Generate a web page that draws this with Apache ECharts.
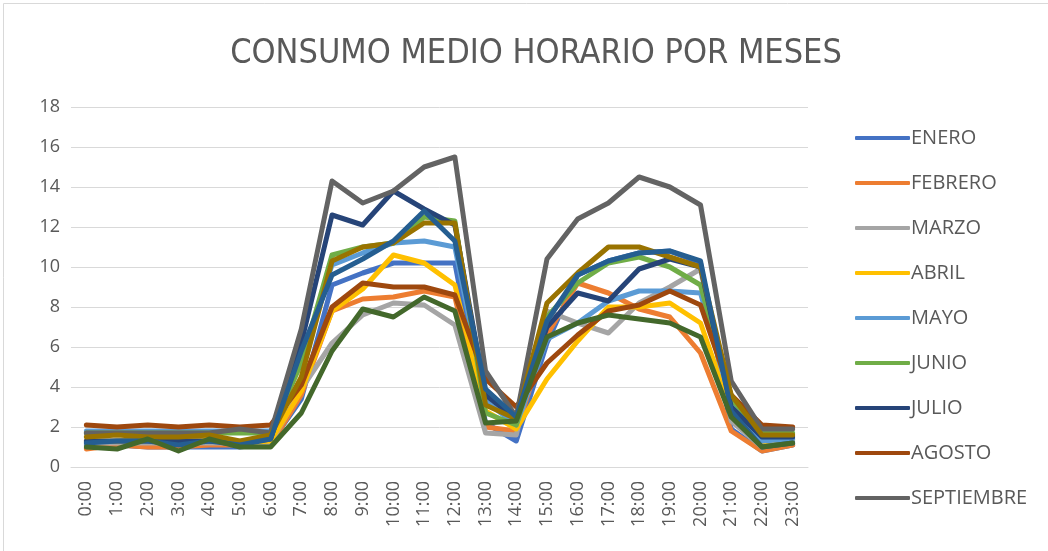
<!DOCTYPE html>
<html>
<head>
<meta charset="utf-8">
<script src="https://cdn.jsdelivr.net/npm/echarts@6/dist/echarts.min.js"></script>
<style>
  html, body { margin: 0; padding: 0; background: #fff; }
  #chart { width: 1048px; height: 551px; }
</style>
</head>
<body>
<div id="chart"></div>
<script>
// horas del día
const hours = ["0:00","1:00","2:00","3:00","4:00","5:00","6:00","7:00","8:00","9:00","10:00","11:00",
  "12:00","13:00","14:00","15:00","16:00","17:00","18:00","19:00","20:00","21:00","22:00","23:00"]

const months = ["ENERO","FEBRERO","MARZO","ABRIL","MAYO","JUNIO","JULIO","AGOSTO","SEPTIEMBRE","OCTUBRE","NOVIEMBRE","DICIEMBRE"]
// only these fit in the legend
const legendMonths = ["ENERO","FEBRERO","MARZO","ABRIL","MAYO","JUNIO","JULIO","AGOSTO","SEPTIEMBRE"]

const enero      = [1.1,1.1,1.0,1.0,1.0,1.0,1.2,3.4,9.1,9.7,10.2,10.2,10.2,2.2,1.3,6.2,9.6,10.3,10.7,10.8,10.2,1.9,0.8,1.1]
const febrero    = [0.9,1.1,1.0,1.0,1.1,1.1,1.1,3.6,7.8,8.4,8.5,8.8,8.5,2.0,1.8,6.6,9.2,8.7,7.9,7.5,5.7,1.8,0.8,1.1]
const marzo      = [1.2,1.2,1.2,1.2,1.2,1.2,1.2,3.9,6.2,7.6,8.2,8.1,7.1,1.7,1.6,7.8,7.2,6.7,8.2,9.0,9.9,2.3,1.0,1.3]
const abril      = [1.3,1.3,1.4,1.3,1.4,1.2,1.3,3.8,7.8,8.9,10.6,10.2,9.1,2.8,1.9,4.4,6.3,8.0,8.0,8.2,7.2,2.8,1.2,1.4]
const mayo       = [1.8,1.8,1.8,1.8,1.8,1.8,1.8,5.4,10.1,10.7,11.2,11.3,11.0,3.3,2.1,6.4,7.2,8.3,8.8,8.8,8.7,3.2,1.3,1.4]
const junio      = [1.7,1.7,1.7,1.7,1.7,1.7,1.7,5.2,10.6,11.0,11.2,12.5,12.3,2.7,2.1,7.5,9.2,10.2,10.5,10.0,9.1,3.4,1.7,1.7]
const julio      = [1.3,1.3,1.3,1.3,1.3,1.2,1.4,6.2,12.6,12.1,13.8,12.9,12.1,3.6,2.4,7.0,8.7,8.3,9.9,10.4,10.0,3.0,1.5,1.5]
const agosto     = [2.1,2.0,2.1,2.0,2.1,2.0,2.1,4.1,8.0,9.2,9.0,9.0,8.6,4.4,3.0,5.2,6.6,7.8,8.1,8.8,8.1,3.6,2.1,2.0]
const septiembre = [1.7,1.7,1.7,1.7,1.7,1.9,1.7,6.9,14.3,13.2,13.8,15.0,15.5,4.8,2.5,10.4,12.4,13.2,14.5,14.0,13.1,4.3,1.9,1.9]
const octubre    = [1.5,1.6,1.5,1.5,1.6,1.3,1.6,4.5,10.3,11.0,11.2,12.2,12.2,3.1,2.4,8.2,9.7,11.0,11.0,10.5,10.0,3.6,1.6,1.6]
const noviembre  = [1.2,1.3,1.3,1.1,1.3,1.1,1.4,5.8,9.6,10.4,11.3,12.8,11.3,3.9,2.5,7.3,9.6,10.3,10.7,10.8,10.3,2.8,1.0,1.2]
const diciembre  = [1.0,0.9,1.4,0.8,1.4,1.0,1.0,2.7,5.8,7.9,7.5,8.5,7.8,2.2,2.3,6.5,7.2,7.6,7.4,7.2,6.5,2.5,1.0,1.2]

const seriesData = [enero,febrero,marzo,abril,mayo,junio,julio,agosto,septiembre,octubre,noviembre,diciembre]
const colors = ["#4472C4","#ED7D31","#A5A5A5","#FFC000","#5B9BD5","#70AD47",
  "#264478","#9E480E","#636363","#997300","#255E91","#43682B"]

const font = "'Open Sans', 'Noto Sans', sans-serif"
const narrow = "'Liberation Sans Narrow', 'DejaVu Sans Condensed', 'Open Sans', sans-serif"
const chart = echarts.init(document.getElementById("chart"))

const option = {
  animation: false,
  color: colors,
  title: {
    text: "CONSUMO MEDIO HORARIO POR MESES",
    left: 531,
    textAlign: "center",
    top: 32,
    textStyle: {
      fontFamily: narrow,
      fontSize: 34,
      fontWeight: "normal",
      color: "#595959",
    },
  },
  legend: {
    orient: "vertical",
    left: 850,
    top: 122,
    data: legendMonths,
    itemWidth: 55,
    itemHeight: 4,
    itemGap: 23,
    icon: "roundRect",
    textStyle: {
      fontFamily: font,
      fontSize: 20,
      lineHeight: 22,
      color: "#595959",
      padding: [0, 0, 0, -4],
    },
  },
  graphic: [{
    type: "rect",
    shape: { x: 3.5, y: 3.5, width: 1060, height: 570 },
    style: { fill: "none", stroke: "#d9d9d9", lineWidth: 1 },
    silent: true,
  }],
  grid: {
    left: 71,
    right: 240,
    top: 107,
    bottom: 84,
  },
  xAxis: {
    type: "category",
    data: hours,
    boundaryGap: true,
    axisLine: { lineStyle: { color: "#d9d9d9" } },
    axisTick: { show: false },
    axisLabel: {
      rotate: 90,
      interval: 0,
      margin: 14,
      fontFamily: font,
      fontSize: 18,
      color: "#595959",
    },
  },
  yAxis: {
    type: "value",
    min: 0,
    max: 18,
    interval: 2,
    axisLine: { show: false },
    axisTick: { show: false },
    axisLabel: {
      margin: 11,
      fontFamily: font,
      fontSize: 18,
      color: "#595959",
    },
    splitLine: { lineStyle: { color: "#d9d9d9", width: 1 } },
  },
  series: months.map((name, i) => ({
    name,
    type: "line",
    data: seriesData[i],
    showSymbol: false,
    symbol: "none",
    lineStyle: { width: 5, cap: "round", join: "round" },
  })),
}
chart.setOption(option)
</script>
</body>
</html>
